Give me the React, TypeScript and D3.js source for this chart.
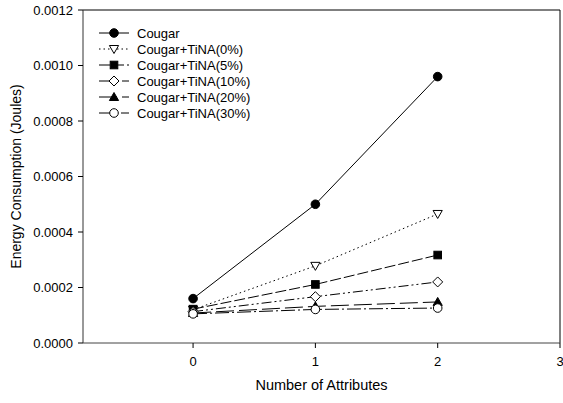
import React from "react";
import * as d3 from "d3";

const xValues = [0, 1, 2];
const seriesNames = [
  "Cougar",
  "Cougar+TiNA(0%)",
  "Cougar+TiNA(5%)",
  "Cougar+TiNA(10%)",
  "Cougar+TiNA(20%)",
  "Cougar+TiNA(30%)",
];
const cougar = [0.00016, 0.0005, 0.00096];
const tina0 = [0.00012, 0.000278, 0.000465];
const tina5 = [0.000122, 0.000211, 0.000317];
const tina10 = [0.000113, 0.000167, 0.00022];
const tina20 = [0.000108, 0.000132, 0.000148];
const tina30 = [0.000105, 0.000121, 0.000126];
const xTicks = [0, 1, 2, 3];
const yTicks = [0, 0.0002, 0.0004, 0.0006, 0.0008, 0.001, 0.0012];

const seriesValues = [cougar, tina0, tina5, tina10, tina20, tina30];
const dashes = ["none", "1.5,3", "11,3", "10,3,2,3,2,3", "18,5", "14,3,2,3"];
const markers = ["circleFilled", "triDownOpen", "squareFilled", "diamondOpen", "triUpFilled", "circleOpen"];

const W = 563, H = 403;
const L = 83, R = 560, T = 10, B = 343;

function Marker({ type, x, y }: { type: string; x: number; y: number }) {
  const sw = 1;
  switch (type) {
    case "circleFilled":
      return <circle cx={x} cy={y} r={4.3} fill="black" stroke="black" strokeWidth={sw} />;
    case "circleOpen":
      return <circle cx={x} cy={y} r={4.3} fill="white" stroke="black" strokeWidth={sw} />;
    case "squareFilled":
      return <rect x={x - 3.8} y={y - 3.8} width={7.6} height={7.6} fill="black" stroke="black" strokeWidth={sw} />;
    case "triDownOpen":
      return <path d={`M${x - 4.6},${y - 3.5}L${x + 4.6},${y - 3.5}L${x},${y + 4.5}Z`} fill="white" stroke="black" strokeWidth={sw} />;
    case "triUpFilled":
      return <path d={`M${x - 4.6},${y + 3.5}L${x + 4.6},${y + 3.5}L${x},${y - 4.5}Z`} fill="black" stroke="black" strokeWidth={sw} />;
    case "diamondOpen":
      return <path d={`M${x},${y - 5}L${x + 5},${y}L${x},${y + 5}L${x - 5},${y}Z`} fill="white" stroke="black" strokeWidth={sw} />;
  }
  return null;
}

export default function App() {
  const x = d3.scaleLinear().domain([-0.9, 3]).range([L, R]);
  const y = d3.scaleLinear().domain([0, 0.0012]).range([B, T]);
  const line = d3
    .line<number>()
    .x((_, i) => x(xValues[i]))
    .y((d) => y(d));
  const font = "'Liberation Sans', Arial, sans-serif";

  return (
    <svg width={W} height={H} style={{ position: "absolute", left: 0, top: 0 }} fontFamily={font}>
      <rect x={0} y={0} width={W} height={H} fill="white" />
      {/* frame */}
      <line x1={L} y1={T} x2={R} y2={T} stroke="black" strokeWidth={1} />
      <line x1={R} y1={T} x2={R} y2={B} stroke="black" strokeWidth={1} />
      <line x1={L} y1={T} x2={L} y2={B} stroke="#333" strokeWidth={1} />
      <line x1={L} y1={B} x2={R} y2={B} stroke="#444" strokeWidth={1} />
      {/* y ticks */}
      {yTicks.map((t) => (
        <g key={t}>
          <line x1={L - 5} x2={L} y1={y(t)} y2={y(t)} stroke="black" />
          <text x={L - 10} y={y(t)} dy="0.35em" textAnchor="end" fontSize={13}>
            {t.toFixed(4)}
          </text>
        </g>
      ))}
      {/* x ticks */}
      {xTicks.map((t) => (
        <g key={t}>
          <line x1={x(t)} x2={x(t)} y1={B} y2={B + 5} stroke="black" />
          <text x={x(t)} y={B + 23} textAnchor="middle" fontSize={13}>
            {t}
          </text>
        </g>
      ))}
      <text x={(L + R) / 2} y={390} textAnchor="middle" fontSize={14.5}>
        Number of Attributes
      </text>
      <text
        transform={`translate(21,${(T + B) / 2}) rotate(-90)`}
        textAnchor="middle"
        fontSize={14}
      >
        Energy Consumption (Joules)
      </text>
      {/* series */}
      {seriesValues.map((vals, si) => (
        <path
          key={"l" + si}
          d={line(vals) || ""}
          fill="none"
          stroke="black"
          strokeWidth={1}
          strokeDasharray={dashes[si] === "none" ? undefined : dashes[si]}
        />
      ))}
      {seriesValues.map((vals, si) =>
        vals.map((v, i) => <Marker key={`m${si}-${i}`} type={markers[si]} x={x(xValues[i])} y={y(v)} />)
      )}
      {/* legend */}
      {seriesNames.map((name, i) => {
        const ly = 33 + i * 16;
        return (
          <g key={"lg" + i}>
            <line
              x1={99}
              x2={129}
              y1={ly}
              y2={ly}
              stroke="black"
              strokeDasharray={dashes[i] === "none" ? undefined : dashes[i]}
            />
            <Marker type={markers[i]} x={114} y={ly} />
            <text x={137} y={ly} dy="0.35em" fontSize={13}>
              {name}
            </text>
          </g>
        );
      })}
    </svg>
  );
}
